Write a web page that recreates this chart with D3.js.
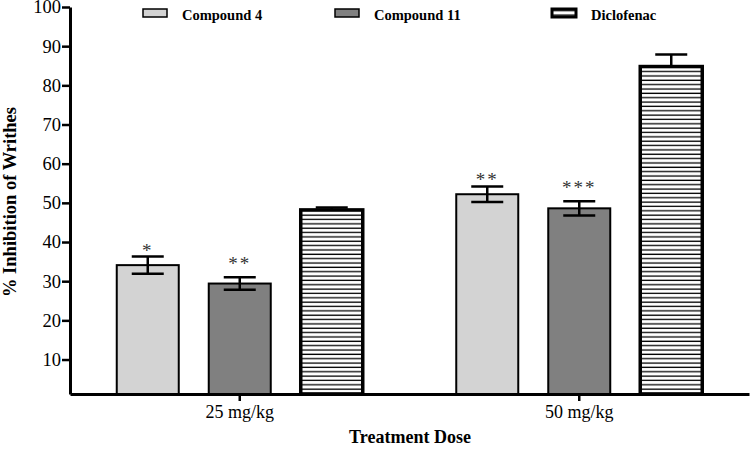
<!DOCTYPE html>
<html>
<head>
<meta charset="utf-8">
<script src="https://cdn.jsdelivr.net/npm/d3@7"></script>
<style>
  body { margin: 0; background: #fff; }
  svg { display: block; font-family: "Liberation Serif", "Times New Roman", serif; }
</style>
</head>
<body>
<svg id="chart" width="751" height="450"></svg>
<script>
// data
const doses = ['25 mg/kg', '50 mg/kg'];
const series = ['Compound 4', 'Compound 11', 'Diclofenac'];
const means = {
    'Compound 4':  [34.1, 52.2],
    'Compound 11': [29.4, 48.6],
    'Diclofenac':  [48.2, 84.8]
};
const sems = {
    'Compound 4':  [2.2, 2.0],
    'Compound 11': [1.6, 1.8],
    'Diclofenac':  [0.6, 3.1]
};
const stars = {
    'Compound 4':  ['*', '**'],
    'Compound 11': ['**', '***'],
    'Diclofenac':  ['', '']
};
const yTicks = [10, 20, 30, 40, 50, 60, 70, 80, 90, 100];

const fills = { 'Compound 4': '#d3d3d3', 'Compound 11': '#808080', 'Diclofenac': 'url(#stripes)' };
const outline = { 'Compound 4': 2, 'Compound 11': 2, 'Diclofenac': 3.5 };
const starGap = { 'Compound 4': 0, 'Compound 11': 7, 'Diclofenac': 0 };
const serif = '"Liberation Serif", "Times New Roman", serif';

const svg = d3.select('#chart');

// horizontal stripes for diclofenac
const pat = svg.append('defs').append('pattern')
    .attr('id', 'stripes')
    .attr('patternUnits', 'userSpaceOnUse')
    .attr('width', 10)
    .attr('height', 4.35);
pat.append('rect').attr('width', 10).attr('height', 4.35).attr('fill', '#fff');
pat.append('line')
    .attr('x1', 0).attr('x2', 10)
    .attr('y1', 2).attr('y2', 2)
    .attr('stroke', '#000').attr('stroke-width', 1.3);

// scales
const y = d3.scaleLinear().domain([1.2, 100]).range([394, 7]);
const x0 = d3.scaleBand().domain(doses).range([70, 749]);
const x1 = d3.scaleBand().domain(series).range([0, 246]).paddingInner(0.326).paddingOuter(0);
const groupLeft = d => x0(d) + x0.bandwidth() / 2 - 123;

// bars + error bars
series.forEach(s => {
    doses.forEach((d, i) => {
        const bx = groupLeft(d) + x1(s);
        const cx = bx + x1.bandwidth() / 2;
        const m = means[s][i], e = sems[s][i];
        const hatched = s === 'Diclofenac';

        const err = svg.append('g')
            .attr('stroke', '#000')
            .attr('stroke-width', 2.5);
        const drawErr = () => {
            err.append('line').attr('x1', cx).attr('x2', cx).attr('y1', y(m + e)).attr('y2', y(m - e));
            err.append('line').attr('x1', cx - 16).attr('x2', cx + 16).attr('y1', y(m + e)).attr('y2', y(m + e));
            err.append('line').attr('x1', cx - 16).attr('x2', cx + 16).attr('y1', y(m - e)).attr('y2', y(m - e));
        };
        if (hatched) drawErr();

        svg.append('rect')
            .attr('x', bx)
            .attr('y', y(m))
            .attr('width', x1.bandwidth())
            .attr('height', y.range()[0] - y(m))
            .attr('fill', fills[s])
            .attr('stroke', '#000')
            .attr('stroke-width', outline[s]);

        if (!hatched) { err.raise(); drawErr(); }

        if (stars[s][i]) {
            svg.append('text')
                .attr('x', cx)
                .attr('y', y(m + e) - starGap[s])
                .attr('text-anchor', 'middle')
                .attr('fill', '#333')
                .style('font-size', '19px')
                .style('letter-spacing', '2px')
                .text(stars[s][i]);
        }
    });
});

// axes
const yAxis = svg.append('g')
    .attr('transform', 'translate(70,0)')
    .call(d3.axisLeft(y).tickValues(yTicks).tickSize(8).tickSizeOuter(0).tickPadding(1));
yAxis.attr('font-family', serif);
yAxis.selectAll('text').style('font-size', '18.5px').attr('fill', '#000');

const xAxis = svg.append('g')
    .attr('transform', 'translate(0,394)')
    .call(d3.axisBottom(x0).tickSize(7).tickSizeOuter(0));
xAxis.attr('font-family', serif);
xAxis.selectAll('text').style('font-size', '18px').attr('fill', '#000').attr('dy', 0).attr('y', 24);

[yAxis, xAxis].forEach(a => {
    a.select('.domain').attr('stroke', '#000').attr('stroke-width', 3);
    a.selectAll('.tick line').attr('stroke', '#000').attr('stroke-width', 2.5);
});

// axis titles
svg.append('text')
    .attr('transform', 'translate(16,202) rotate(-90)')
    .attr('text-anchor', 'middle')
    .style('font-size', '18.5px')
    .style('font-weight', 'bold')
    .text('% Inhibition of Writhes');

svg.append('text')
    .attr('x', 410)
    .attr('y', 443)
    .attr('text-anchor', 'middle')
    .style('font-size', '18px')
    .style('font-weight', 'bold')
    .text('Treatment Dose');

// legend
const legendX = [143, 335, 552];
series.forEach((s, i) => {
    svg.append('rect')
        .attr('x', legendX[i]).attr('y', 9)
        .attr('width', 24).attr('height', 8)
        .attr('fill', fills[s])
        .attr('stroke', '#000')
        .attr('stroke-width', s === 'Diclofenac' ? 3 : 1.5);
    svg.append('text')
        .attr('x', legendX[i] + 39).attr('y', 20)
        .style('font-size', '14.5px')
        .style('font-weight', 'bold')
        .text(s);
});
</script>
</body>
</html>
